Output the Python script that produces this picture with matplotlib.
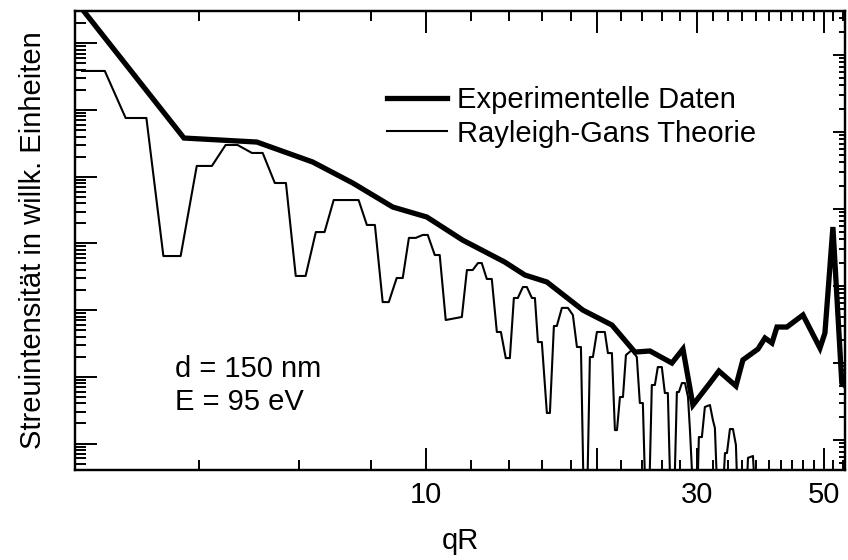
import numpy as np
import matplotlib
matplotlib.use("Agg")
import matplotlib.pyplot as plt
from matplotlib.ticker import LogLocator, NullFormatter
from matplotlib.lines import Line2D

plt.rcParams['font.family'] = ['Liberation Sans', 'DejaVu Sans']

# experimental data (thick line)
qr_exp = [2.42, 3.76, 5.05, 6.33, 7.44, 8.75, 10.04, 11.61, 13.76, 14.93, 16.32,
          18.88, 21.23, 23.30, 24.76, 27.06, 28.30, 29.46, 31.56, 32.73, 35.06,
          36.06, 38.33, 39.43, 40.56, 41.39, 43.09, 45.98, 49.25, 50.25, 51.9,
          53.8, 55.6]
int_exp = [4.46e6, 3.80e4, 3.31e4, 1.66e4, 8.05e3, 3.51e3, 2.49e3, 1.12e3, 526,
           336, 264, 100, 59.8, 23.5, 24.4, 16.1, 26.1, 3.78, 8.07, 12.2, 7.28,
           17.9, 26.1, 38.2, 32.1, 55.8, 55.8, 84.5, 27.0, 45.4, 1760, 8.07, 6.34]

# Rayleigh-Gans theory (thin line)
qr_theo = [2.49, 2.73, 2.97, 3.23, 3.46, 3.71, 3.96, 4.21, 4.45, 4.67, 4.95, 5.17,
           5.43, 5.68, 5.91, 6.15, 6.41, 6.64, 6.89, 7.62, 7.88, 8.14, 8.40, 8.61,
           8.89, 9.11, 9.34, 9.60, 9.88, 10.08, 10.37, 10.58, 10.84, 11.57, 11.81,
           12.09, 12.35, 12.54, 12.80, 13.06, 13.33, 13.55, 13.82, 14.05, 14.28,
           14.51, 14.81, 15.05, 15.36, 15.55, 15.74, 15.99, 16.32, 16.52, 16.79,
           16.99, 17.34, 17.77, 18.13, 18.43, 18.73, 18.96, 19.19, 19.42, 19.66,
           19.98, 20.63, 20.89, 21.23, 21.49, 21.67, 21.93, 22.20, 22.47, 23.01,
           23.48, 23.77, 24.06, 24.35, 24.65, 24.95, 25.26, 25.56, 25.98, 26.30,
           26.62, 26.95, 27.28, 27.61, 27.84, 28.18, 28.53, 28.88, 29.11, 29.58,
           29.94, 30.18, 30.55, 30.92, 31.56, 31.94, 32.20, 32.60, 33.13, 33.54,
           33.81, 34.22, 34.64, 35.06, 35.35, 36.51, 36.81, 37.56, 38.02, 55.2]
int_theo = [3.85e5, 3.85e5, 7.59e4, 7.59e4, 647, 647, 1.45e4, 1.45e4, 2.99e4,
            2.99e4, 2.27e4, 2.27e4, 8.05e3, 8.05e3, 325, 325, 1.48e3, 1.48e3,
            4.47e3, 4.47e3, 1.89e3, 1.89e3, 132, 132, 303, 303, 1.21e3, 1.21e3,
            1.34e3, 1.34e3, 670, 670, 71.1, 78.9, 399, 399, 508, 508, 293, 293,
            47.0, 47.0, 19.1, 19.1, 152, 152, 222, 222, 152, 152, 33.2, 33.2,
            2.87, 2.87, 57.8, 57.8, 108, 108, 84.5, 28.0, 28.0, 0.1, 0.1, 19.8,
            19.8, 47.0, 47.0, 22.7, 22.7, 1.59, 1.59, 4.98, 4.98, 21.2, 25.2,
            19.8, 4.05, 4.05, 0.1, 0.1, 7.54, 7.54, 14.0, 14.0, 5.72, 5.72, 0.1,
            0.1, 5.92, 5.92, 8.07, 8.07, 4.98, 1.59, 0.1, 0.1, 1.25, 1.25, 3.53,
            3.78, 2.25, 1.71, 0.1, 0.1, 0.72, 0.72, 1.65, 1.65, 0.95, 0.1, 0.1,
            0.61, 0.65, 0.1, 0.1]

x_major = [10, 20, 30, 50]
x_major_labels = ['10', '', '30', '50']
x_minor = [4, 6, 8, 12, 14, 16, 18, 22, 24, 26, 28, 32, 34, 36, 38, 40, 42, 44,
           46, 48, 52, 54]

FS = 21

fig = plt.figure(figsize=(8.48, 5.6), dpi=100)
ax = fig.add_axes([75 / 848, 90 / 560, 770 / 848, 459 / 560])

ax.plot(qr_theo, int_theo, color='black', lw=1.5, label='Rayleigh-Gans Theorie')
ax.plot(qr_exp, int_exp, color='black', lw=3.8, solid_joinstyle='miter',
        label='Experimentelle Daten')

ax.set_xscale('log')
ax.set_yscale('log')
ax.set_xlim(2.42, 54.5)
ax.set_ylim(0.401, 3.05e6)

ax.set_xticks(x_major, x_major_labels)
ax.set_xticks(x_minor, minor=True)
ax.xaxis.set_minor_formatter(NullFormatter())
ax.yaxis.set_major_locator(LogLocator(base=10, numticks=100))
ax.yaxis.set_minor_locator(LogLocator(base=10, subs=np.arange(2, 10), numticks=100))
ax.yaxis.set_major_formatter(NullFormatter())
ax.yaxis.set_minor_formatter(NullFormatter())

ax.tick_params(axis='x', which='both', direction='in', top=True, bottom=True,
               width=1.4, labelsize=FS, pad=8)
ax.tick_params(axis='x', which='major', length=16)
ax.tick_params(axis='x', which='minor', length=7)
ax.tick_params(axis='y', which='both', direction='in', left=True, right=False,
               width=1.4, labelleft=False)
ax.tick_params(axis='y', which='major', length=16)
ax.tick_params(axis='y', which='minor', length=8)
for s in ax.spines.values():
    s.set_linewidth(1.6)

# second scale on the right side (ticks only)
ax2 = ax.twinx()
ax2.set_yscale('log')
ax2.set_ylim(0.407, 3.7e5)
ax2.yaxis.set_major_locator(LogLocator(base=10, numticks=100))
ax2.yaxis.set_minor_locator(LogLocator(base=10, subs=np.arange(2, 10), numticks=100))
ax2.yaxis.set_major_formatter(NullFormatter())
ax2.yaxis.set_minor_formatter(NullFormatter())
ax2.tick_params(axis='y', which='both', direction='in', width=1.4, labelright=False)
ax2.tick_params(axis='y', which='major', length=9)
ax2.tick_params(axis='y', which='minor', length=4.5)
for s in ax2.spines.values():
    s.set_linewidth(1.6)

ax.set_xlabel('qR', fontsize=FS, labelpad=13)
ax.set_ylabel('Streuintensität in willk. Einheiten', fontsize=FS)
ax.yaxis.set_label_coords(-0.037, 0.5)

handles = [Line2D([], [], color='black', lw=3.8), Line2D([], [], color='black', lw=1.5)]
ax.legend(handles, ['Experimentelle Daten', 'Rayleigh-Gans Theorie'],
          loc='upper left', bbox_to_anchor=(0.405, 0.837), frameon=False,
          fontsize=FS, handlelength=2.06, handletextpad=0.34, labelspacing=0.2,
          borderpad=0, borderaxespad=0)

ax.text(0.130, 0.203, 'd = 150 nm', transform=ax.transAxes, fontsize=FS, va='baseline')
ax.text(0.130, 0.131, 'E = 95 eV', transform=ax.transAxes, fontsize=FS, va='baseline')

fig.savefig('out.png', dpi=100, facecolor='white')
